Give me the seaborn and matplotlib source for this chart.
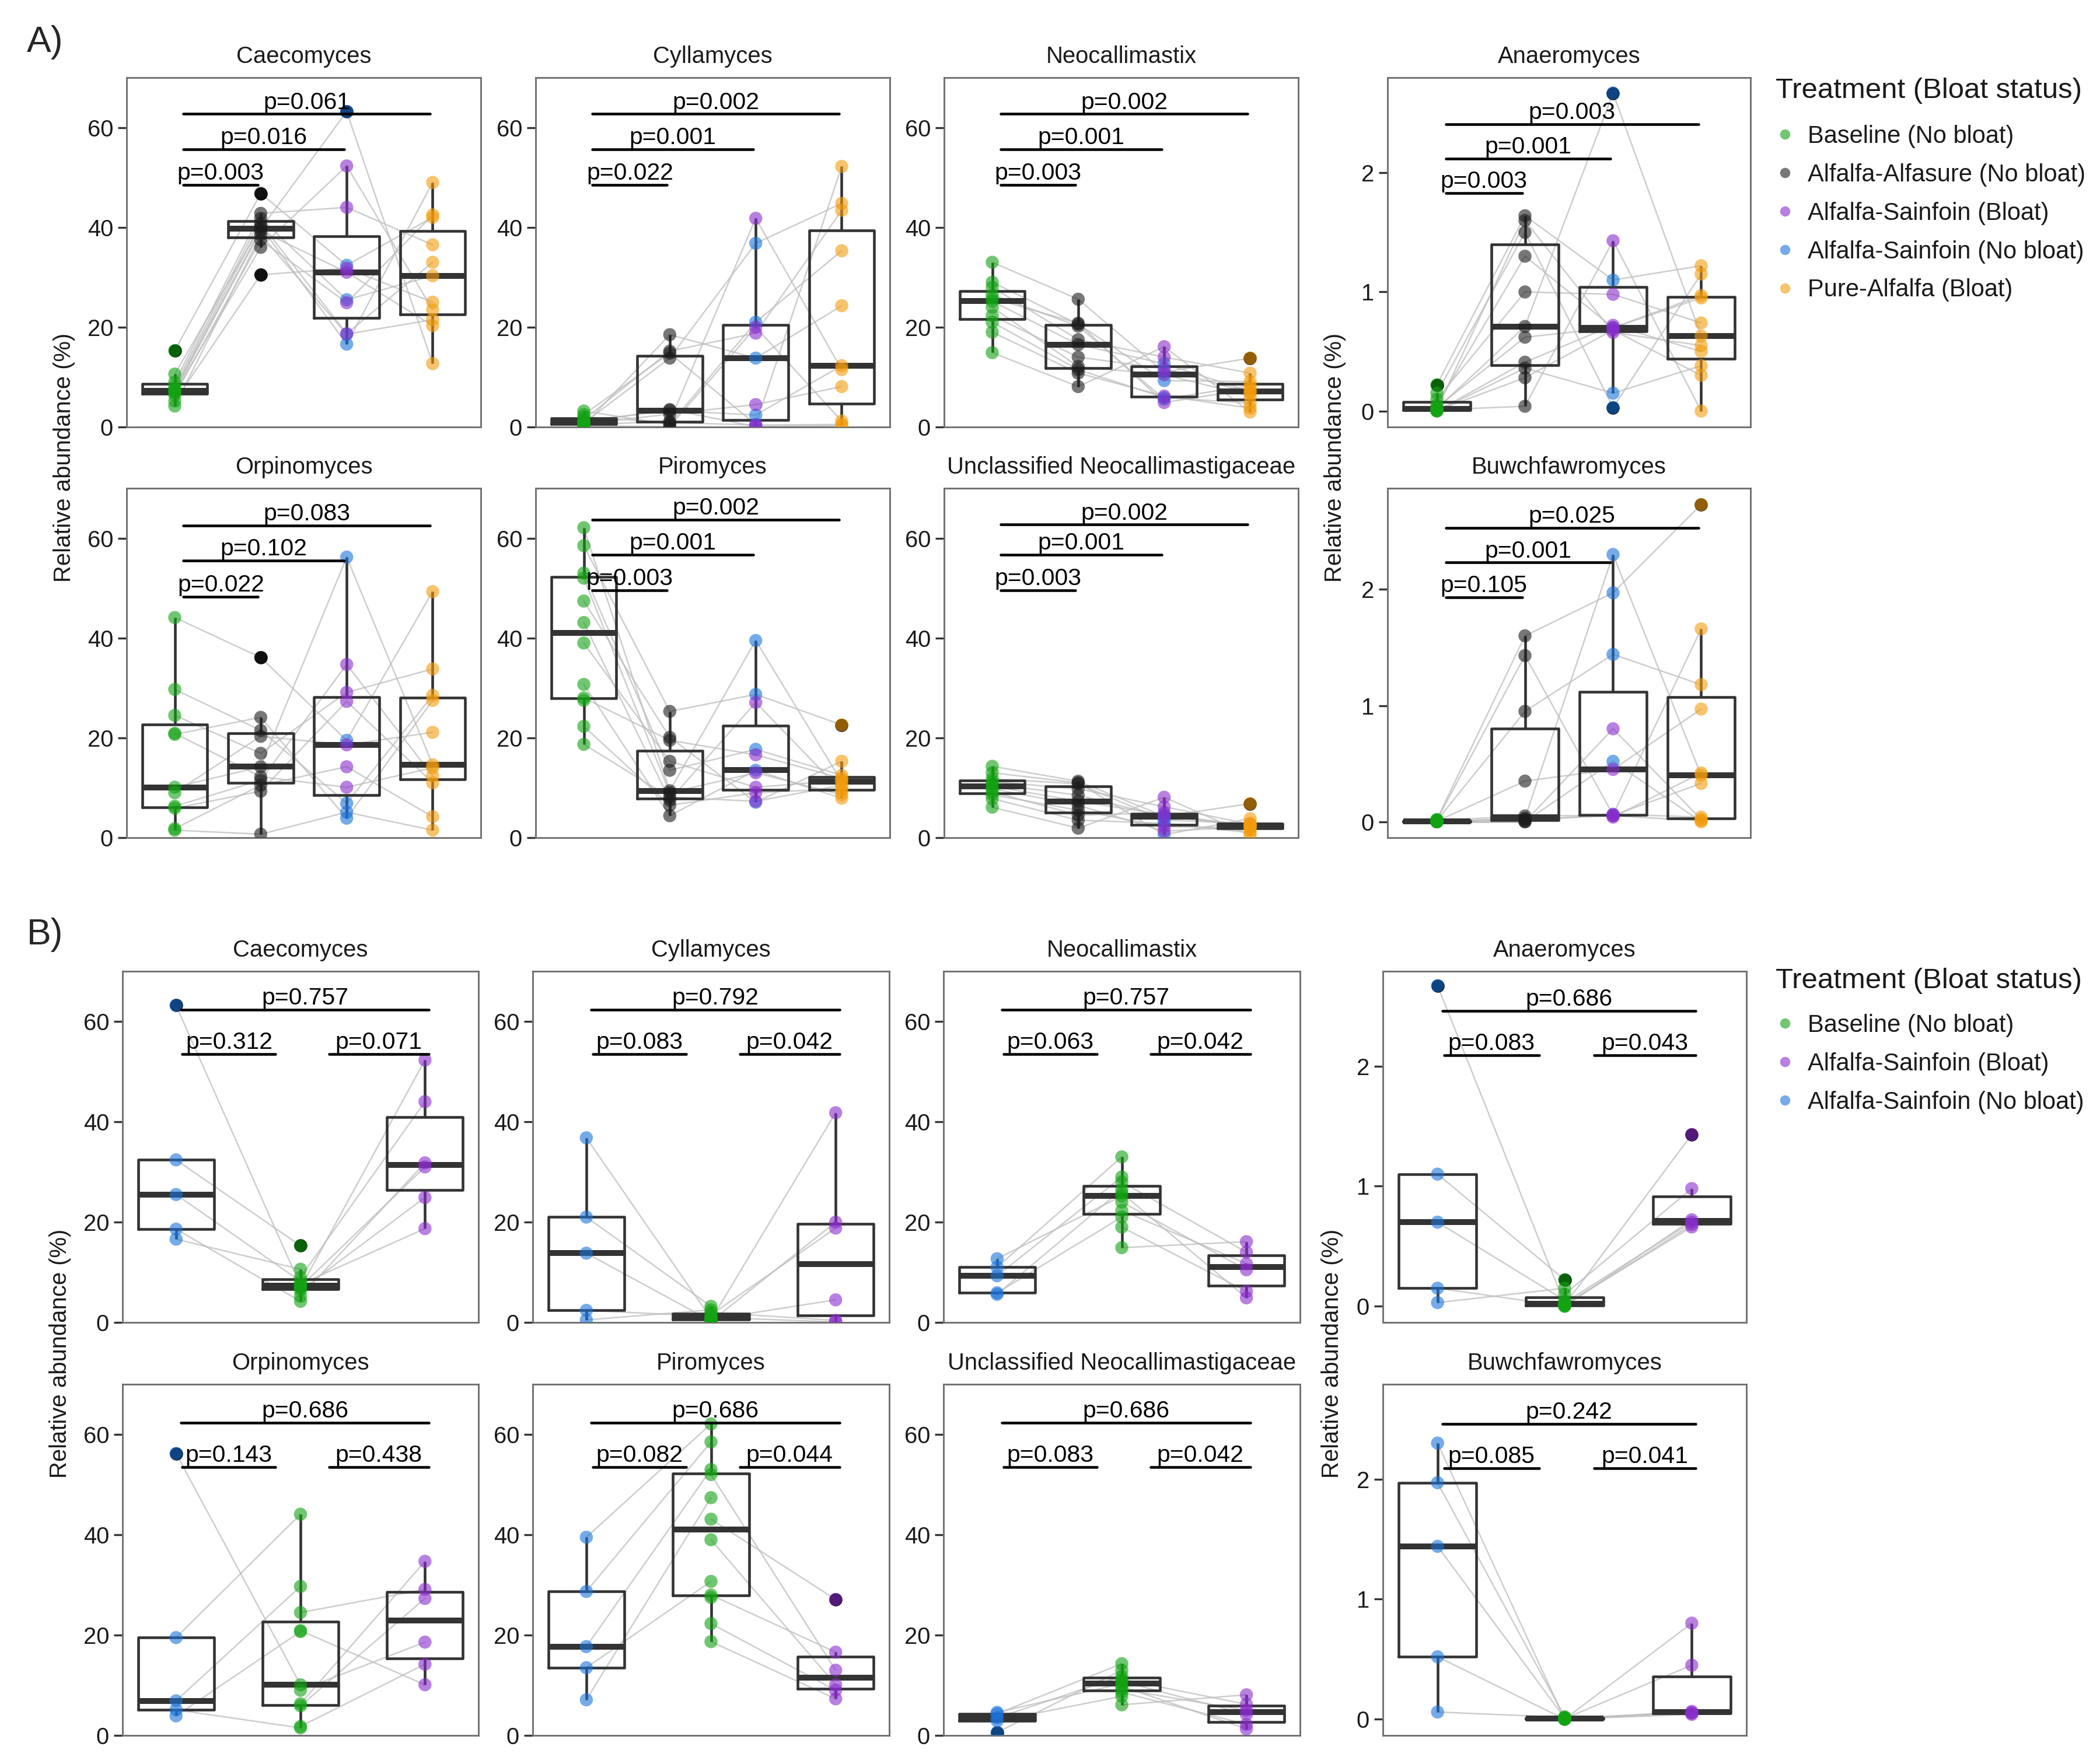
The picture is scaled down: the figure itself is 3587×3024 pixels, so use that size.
import matplotlib
matplotlib.use("Agg")
import pandas as pd
import seaborn as sns
import matplotlib.pyplot as plt
from matplotlib.lines import Line2D

sns.set_theme(style="white")
plt.rcParams["font.family"] = ["Liberation Sans", "DejaVu Sans"]

# ---------------- data ----------------
GENERA = ["Caecomyces", "Cyllamyces", "Neocallimastix", "Anaeromyces",
          "Orpinomyces", "Piromyces", "Unclassified Neocallimastigaceae", "Buwchfawromyces"]
DIETS_A = ["Baseline", "Alfalfa-Alfasure", "Alfalfa-Sainfoin", "Pure-Alfalfa"]
DIETS_B = ["Alfalfa-Sainfoin (No bloat)", "Baseline", "Alfalfa-Sainfoin (Bloat)"]
STATUS_A = ["Baseline (No bloat)", "Alfalfa-Alfasure (No bloat)", "Alfalfa-Sainfoin (Bloat)",
            "Alfalfa-Sainfoin (No bloat)", "Pure-Alfalfa (Bloat)"]
STATUS_B = ["Baseline (No bloat)", "Alfalfa-Sainfoin (Bloat)", "Alfalfa-Sainfoin (No bloat)"]

caeco_base = [7.3, 15.3, 8.2, 4.2, 10.6, 6.9, 9.0, 5.2, 7.1, 6.4, 7.6]
caeco_alfasure = [39.7, 46.8, 41.8, 38.5, 40.2, 36.0, 42.8, 30.5, 39.3, 37.5, 40.8]
caeco_sf_nobloat = [63.2, 32.4, 25.5, 18.6, 16.6]
caeco_sf_bloat = [52.3, 44.0, 31.8, 31.0, 24.9, 18.7]
caeco_pure = [12.7, 42.0, 30.3, 21.5, 49.0, 23.5, 36.5, 25.0, 20.3, 42.5, 33.0]

cylla_base = [0.8, 3.2, 0.3, 1.2, 2.5, 0.5, 0.2, 1.5, 0.6, 2.0, 1.0]
cylla_alfasure = [13.8, 0.5, 18.5, 3.3, 14.8, 1.1, 0.1, 15.2, 2.6, 0.9, 3.5]
cylla_sf_nobloat = [36.8, 21.0, 13.8, 2.4, 0.5]
cylla_sf_bloat = [41.8, 20.0, 18.8, 4.5, 0.4, 0.1]
cylla_pure = [44.8, 35.3, 24.3, 12.3, 52.2, 11.5, 1.2, 43.4, 8.1, 0.5, 0.3]

neo_base = [25.2, 33.0, 29.0, 21.0, 26.5, 14.9, 28.0, 22.3, 24.0, 19.0, 25.8]
neo_alfasure = [16.5, 25.6, 20.6, 11.5, 20.2, 8.1, 17.5, 14.0, 12.1, 10.8, 20.8]
neo_sf_nobloat = [12.7, 11.0, 9.3, 5.9, 5.6]
neo_sf_bloat = [16.1, 14.0, 11.7, 10.5, 6.2, 4.9]
neo_pure = [7.1, 13.8, 9.1, 4.8, 8.3, 3.0, 10.8, 6.8, 6.2, 3.8, 7.6]

anaero_base = [0.02, 0.22, 0.05, 0.0, 0.15, 0.01, 0.1, 0.0, 0.03, 0.005, 0.015]
anaero_alfasure = [0.71, 1.64, 1.3, 0.36, 1.5, 0.04, 1.0, 0.41, 0.62, 0.28, 1.6]
anaero_sf_nobloat = [2.67, 1.1, 0.7, 0.15, 0.03]
anaero_sf_bloat = [1.43, 0.98, 0.72, 0.70, 0.68, 0.66]
anaero_pure = [0.63, 1.22, 0.97, 0.38, 1.15, 0.0, 0.74, 0.5, 0.95, 0.3, 0.55]

orpi_base = [10.1, 44.1, 29.7, 1.5, 20.7, 6.3, 24.5, 5.9, 9.0, 1.8, 20.9]
orpi_alfasure = [14.2, 36.1, 21.5, 0.7, 24.1, 11.5, 16.9, 9.3, 20.3, 10.5, 12.2]
orpi_sf_nobloat = [56.2, 19.5, 6.9, 5.1, 3.9]
orpi_sf_bloat = [34.7, 29.1, 27.3, 18.6, 14.2, 10.1]
orpi_pure = [14.6, 49.3, 28.5, 1.5, 27.5, 12.4, 33.8, 11.0, 21.1, 4.2, 14.0]

piro_base = [62.1, 58.5, 53.0, 30.7, 47.4, 43.1, 28.0, 52.0, 39.0, 22.3, 18.7, 27.5]
piro_alfasure = [9.4, 25.3, 13.5, 4.4, 20.1, 7.5, 19.5, 9.0, 15.3, 6.5, 8.1]
piro_sf_nobloat = [39.5, 28.7, 17.7, 13.5, 7.1]
piro_sf_bloat = [27.1, 16.6, 13.0, 10.1, 9.0, 7.3]
piro_pure = [11.2, 22.6, 12.5, 7.9, 15.3, 9.3, 11.9, 8.6, 11.5, 9.8, 10.5]

uncl_base = [10.3, 14.3, 11.8, 7.8, 13.0, 6.1, 11.2, 9.2, 10.8, 8.6, 9.8]
uncl_alfasure = [7.3, 11.3, 10.8, 3.5, 11.0, 1.9, 9.8, 4.5, 8.5, 5.5, 6.5]
uncl_sf_nobloat = [4.6, 4.3, 3.5, 2.9, 0.6]
uncl_sf_bloat = [8.1, 6.2, 5.0, 4.2, 2.2, 1.3]
uncl_pure = [2.4, 6.8, 2.9, 1.0, 3.8, 0.5, 2.7, 1.7, 2.5, 2.0, 2.2]

buwch_base = [0.0, 0.02, 0.01, 0.0, 0.015, 0.0, 0.005, 0.0, 0.01, 0.005, 0.0]
buwch_alfasure = [0.03, 1.6, 0.95, 0.0, 1.43, 0.0, 0.35, 0.01, 0.05, 0.02]
buwch_sf_nobloat = [2.30, 1.97, 1.44, 0.52, 0.06]
buwch_sf_bloat = [0.80, 0.45, 0.065, 0.055, 0.05, 0.04]
buwch_pure = [0.40, 2.73, 1.18, 0.0, 1.66, 0.02, 0.97, 0.04, 0.33, 0.01, 0.42]

# p-values, panel A: Baseline vs Alfasure, vs Sainfoin, vs Pure-Alfalfa
caeco_p_a = ["p=0.003", "p=0.016", "p=0.061"]
cylla_p_a = ["p=0.022", "p=0.001", "p=0.002"]
neo_p_a = ["p=0.003", "p=0.001", "p=0.002"]
anaero_p_a = ["p=0.003", "p=0.001", "p=0.003"]
orpi_p_a = ["p=0.022", "p=0.102", "p=0.083"]
piro_p_a = ["p=0.003", "p=0.001", "p=0.002"]
uncl_p_a = ["p=0.003", "p=0.001", "p=0.002"]
buwch_p_a = ["p=0.105", "p=0.001", "p=0.025"]

# p-values, panel B: No bloat vs Baseline, Baseline vs Bloat, No bloat vs Bloat
caeco_p_b = ["p=0.312", "p=0.071", "p=0.757"]
cylla_p_b = ["p=0.083", "p=0.042", "p=0.792"]
neo_p_b = ["p=0.063", "p=0.042", "p=0.757"]
anaero_p_b = ["p=0.083", "p=0.043", "p=0.686"]
orpi_p_b = ["p=0.143", "p=0.438", "p=0.686"]
piro_p_b = ["p=0.082", "p=0.044", "p=0.686"]
uncl_p_b = ["p=0.083", "p=0.042", "p=0.686"]
buwch_p_b = ["p=0.085", "p=0.041", "p=0.242"]

VALUES = {
    "Caecomyces": (caeco_base, caeco_alfasure, caeco_sf_nobloat, caeco_sf_bloat, caeco_pure),
    "Cyllamyces": (cylla_base, cylla_alfasure, cylla_sf_nobloat, cylla_sf_bloat, cylla_pure),
    "Neocallimastix": (neo_base, neo_alfasure, neo_sf_nobloat, neo_sf_bloat, neo_pure),
    "Anaeromyces": (anaero_base, anaero_alfasure, anaero_sf_nobloat, anaero_sf_bloat, anaero_pure),
    "Orpinomyces": (orpi_base, orpi_alfasure, orpi_sf_nobloat, orpi_sf_bloat, orpi_pure),
    "Piromyces": (piro_base, piro_alfasure, piro_sf_nobloat, piro_sf_bloat, piro_pure),
    "Unclassified Neocallimastigaceae": (uncl_base, uncl_alfasure, uncl_sf_nobloat, uncl_sf_bloat, uncl_pure),
    "Buwchfawromyces": (buwch_base, buwch_alfasure, buwch_sf_nobloat, buwch_sf_bloat, buwch_pure),
}
PVALS_A = {"Caecomyces": caeco_p_a, "Cyllamyces": cylla_p_a, "Neocallimastix": neo_p_a,
           "Anaeromyces": anaero_p_a, "Orpinomyces": orpi_p_a, "Piromyces": piro_p_a,
           "Unclassified Neocallimastigaceae": uncl_p_a, "Buwchfawromyces": buwch_p_a}
PVALS_B = {"Caecomyces": caeco_p_b, "Cyllamyces": cylla_p_b, "Neocallimastix": neo_p_b,
           "Anaeromyces": anaero_p_b, "Orpinomyces": orpi_p_b, "Piromyces": piro_p_b,
           "Unclassified Neocallimastigaceae": uncl_p_b, "Buwchfawromyces": buwch_p_b}

# ---------------- styling / layout ----------------
PALETTE = {
    "Baseline (No bloat)": "#12a312",
    "Alfalfa-Alfasure (No bloat)": "#1c1c1c",
    "Alfalfa-Sainfoin (Bloat)": "#8a2ccc",
    "Alfalfa-Sainfoin (No bloat)": "#1a73db",
    "Pure-Alfalfa (Bloat)": "#f39c0c",
}
SMALL = ["Anaeromyces", "Buwchfawromyces"]
BRACKET_Y_A = {
    "Caecomyces": (48.5, 55.6, 62.7), "Cyllamyces": (48.5, 55.6, 62.7),
    "Neocallimastix": (48.5, 55.6, 62.7), "Anaeromyces": (1.83, 2.12, 2.41),
    "Orpinomyces": (48.3, 55.5, 62.5), "Piromyces": (49.6, 56.7, 63.7),
    "Unclassified Neocallimastigaceae": (49.6, 56.7, 62.7), "Buwchfawromyces": (1.93, 2.23, 2.53),
}
YLIM_A = {"Anaeromyces": (-0.134, 2.80), "Buwchfawromyces": (-0.137, 2.87)}

W, H = 3587, 3024
COLS_A = [(217, 824), (918, 1525), (1618, 2225), (2378, 3000)]
COLS_B = [(210, 820), (913, 1524), (1617, 2228), (2370, 2993)]
ROWS_A = [(133, 732), (837, 1436)]
ROWS_B = [(1665, 2267), (2373, 2975)]
LINE_GREY = "#bdbdbd"
BOX_COL = "#333333"
TEXT_COL = "#1a1a1a"
PT_SIZE = 5.4


def rect(col, row):
    x0, x1 = col
    y0, y1 = row
    return [x0 / W, 1 - y1 / H, (x1 - x0) / W, (y1 - y0) / H]


def long_frame(parts):
    rows = [(d, s, v) for d, s, vals in parts for v in vals]
    return pd.DataFrame(rows, columns=["diet", "status", "abundance"])


def draw_boxes(ax, df, order, width):
    sns.boxplot(data=df, x="diet", y="abundance", order=order, ax=ax,
                fill=False, color=BOX_COL, width=width, linewidth=1.1,
                fliersize=PT_SIZE, showcaps=False,
                flierprops=dict(marker="o", markerfacecolor="black",
                                markeredgecolor="none", markersize=PT_SIZE),
                medianprops=dict(linewidth=2.4, color=BOX_COL))
    sns.stripplot(data=df, x="diet", y="abundance", order=order, hue="status",
                  palette=PALETTE, jitter=False, dodge=False, size=PT_SIZE,
                  alpha=0.6, linewidth=0, legend=False, ax=ax, zorder=3)


def pair_line(ax, x, y):
    ax.plot(x, y, color=LINE_GREY, lw=0.6, alpha=0.75, zorder=1)


def bracket(ax, x0, x1, y, label):
    ax.plot([x0, x1], [y, y], color="black", lw=1.1, zorder=4, clip_on=False)
    ax.annotate(label, xy=((x0 + x1) / 2, y), xytext=(0, 0.2), textcoords="offset points",
                ha="center", va="bottom", fontsize=9.8, color="black", zorder=5)


def style_axis(ax, title, small, ylim):
    ax.set_title(title, fontsize=9.6, pad=6, color=TEXT_COL)
    ax.set_xlabel("")
    ax.set_ylabel("")
    ax.set_xticks([])
    ax.set_ylim(*ylim)
    ax.set_yticks([0, 1, 2] if small else [0, 20, 40, 60])
    ax.tick_params(axis="y", left=True, length=3.5, width=0.8, color="#333333",
                   labelsize=9.6, labelcolor=TEXT_COL, pad=2)
    for sp in ax.spines.values():
        sp.set_visible(True)
        sp.set_color("#707070")
        sp.set_linewidth(0.7)


def panel_a(ax, name):
    base, alf, sf_nb, sf_b, pure = VALUES[name]
    df = long_frame([
        ("Baseline", "Baseline (No bloat)", base),
        ("Alfalfa-Alfasure", "Alfalfa-Alfasure (No bloat)", alf),
        ("Alfalfa-Sainfoin", "Alfalfa-Sainfoin (No bloat)", sf_nb),
        ("Alfalfa-Sainfoin", "Alfalfa-Sainfoin (Bloat)", sf_b),
        ("Pure-Alfalfa", "Pure-Alfalfa (Bloat)", pure),
    ])
    draw_boxes(ax, df, DIETS_A, 0.76)
    # paired lines: same animal across diets
    series = [base, alf, sf_nb + sf_b, pure]
    for g in range(3):
        left, right = series[g], series[g + 1]
        for i in range(min(len(left), len(right))):
            pair_line(ax, [g, g + 1], [left[i], right[i]])
    small = name in SMALL
    ylim = YLIM_A.get(name, (0, 70))
    for k, (y, lab) in enumerate(zip(BRACKET_Y_A[name], PVALS_A[name])):
        bracket(ax, 0.1, (k + 1) - 0.03, y, lab)
    style_axis(ax, name, small, ylim)
    ax.set_xlim(-0.56, 3.56)


def panel_b(ax, name):
    base, alf, sf_nb, sf_b, pure = VALUES[name]
    df = long_frame([
        ("Alfalfa-Sainfoin (No bloat)", "Alfalfa-Sainfoin (No bloat)", sf_nb),
        ("Baseline", "Baseline (No bloat)", base),
        ("Alfalfa-Sainfoin (Bloat)", "Alfalfa-Sainfoin (Bloat)", sf_b),
    ])
    draw_boxes(ax, df, DIETS_B, 0.61)
    for i, v in enumerate(sf_nb):
        pair_line(ax, [0, 1], [v, base[i]])
    for j, v in enumerate(sf_b):
        pair_line(ax, [1, 2], [base[len(sf_nb) + j], v])
    small = name in SMALL
    if small:
        ylim, side_y, top_y = (-0.135, 2.79), 2.09, 2.46
    else:
        ylim, side_y, top_y = (0, 70), 53.5, 62.3
    p_left, p_right, p_top = PVALS_B[name]
    bracket(ax, 0.05, 0.80, side_y, p_left)
    bracket(ax, 1.23, 2.03, side_y, p_right)
    bracket(ax, 0.04, 2.03, top_y, p_top)
    style_axis(ax, name, small, ylim)
    ax.set_xlim(-0.43, 2.43)


def legend(fig, statuses, title_y, top_y, spacing):
    fig.text(3043 / W, 1 - title_y / H, "Treatment (Bloat status)", ha="left", va="center",
             fontsize=11.8, color=TEXT_COL)
    handles = [Line2D([], [], marker="o", linestyle="none", markersize=4.2,
                      markerfacecolor=PALETTE[s], markeredgewidth=0, alpha=0.6)
               for s in statuses]
    leg = fig.legend(handles, statuses, loc="upper left",
                     bbox_to_anchor=(3046 / W, 1 - top_y / H), frameon=False,
                     fontsize=10.0, borderpad=0, borderaxespad=0,
                     handlelength=0.6, handletextpad=0.65, labelspacing=spacing)
    for t in leg.get_texts():
        t.set_color(TEXT_COL)


fig = plt.figure(figsize=(W / 300, H / 300), dpi=300, facecolor="white")

for idx, name in enumerate(GENERA):
    r, c = divmod(idx, 4)
    ax = fig.add_axes(rect(COLS_A[c], ROWS_A[r]))
    panel_a(ax, name)
    ax = fig.add_axes(rect(COLS_B[c], ROWS_B[r]))
    panel_b(ax, name)

ylab = "Relative abundance (%)"
for x, y in [(110, 784), (2288, 784), (103, 2320), (2283, 2320)]:
    fig.text(x / W, 1 - y / H, ylab, rotation=90, ha="center", va="center",
             fontsize=9.6, color=TEXT_COL)

fig.text(46 / W, 1 - 73 / H, "A)", ha="left", va="center", fontsize=15)
fig.text(46 / W, 1 - 1602 / H, "B)", ha="left", va="center", fontsize=15)

legend(fig, STATUS_A, 156, 214, 0.62)
legend(fig, STATUS_B, 1682, 1738, 0.62)

fig.savefig("out.png", dpi=300, facecolor="white")
